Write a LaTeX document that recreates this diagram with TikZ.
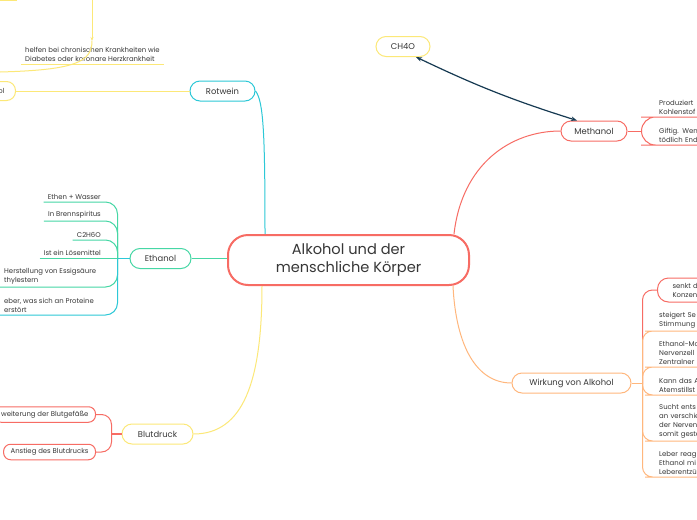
\documentclass[tikz,border=0pt]{standalone}
\usepackage{fontspec}
\setmainfont{Poppins}
\usetikzlibrary{arrows.meta,calc,positioning}
\definecolor{TopicRed}{RGB}{247,108,100}
\definecolor{BranchCyan}{RGB}{45,200,215}
\definecolor{BranchGreen}{RGB}{70,215,165}
\definecolor{BranchYellow}{RGB}{252,232,120}
\definecolor{BranchOrange}{RGB}{255,183,125}
\definecolor{RelNavy}{RGB}{22,58,82}
\definecolor{InkGray}{RGB}{55,55,55}

\tikzset{
  pill/.style={draw, line width=1pt, rounded corners=10pt, minimum height=20pt,
    inner xsep=8pt, fill=white, text=InkGray, font=\fontsize{8.4}{10}\selectfont},
  tagbox/.style={draw, line width=1pt, rounded corners=7pt, minimum height=15.5pt,
    inner xsep=7pt, fill=white, text=InkGray, font=\fontsize{6.9}{9}\selectfont},
  leaf/.style={inner xsep=4pt, inner ysep=2.5pt, text=InkGray, font=\fontsize{6.9}{9}\selectfont},
  rightleaf/.style={leaf, anchor=south west, align=left, text width=52pt},
  link/.style={line width=1pt},
}

\begin{document}
\begin{tikzpicture}[x=1pt,y=-1pt]
\clip (0,0) rectangle (697,520);
\fill[white] (0,0) rectangle (697,520);

% Zentrum und Hauptzweige
\node[draw=TopicRed, line width=2pt, rounded corners=20pt, minimum width=241pt, minimum height=50pt,
  align=center, fill=white, text=InkGray, font=\fontsize{14.6}{18}\selectfont]
  (koerper) at (348.5,260) {Alkohol und der\\menschliche Körper};
\node[pill, draw=BranchCyan, minimum width=65pt] (rotwein) at (222.5,91) {Rotwein};
\node[pill, draw=BranchGreen, minimum width=61pt] (ethanol) at (160.5,258.5) {Ethanol};
\node[pill, draw=BranchYellow, minimum width=71pt] (blutdruck) at (157.5,434) {Blutdruck};
\node[pill, draw=TopicRed, minimum width=66pt] (methanol) at (594,131) {Methanol};
\node[pill, draw=BranchOrange, minimum width=119pt] (wirkung) at (571.5,383) {Wirkung von Alkohol};
\node[pill, draw=BranchYellow, minimum width=54pt] (ch4o) at (403,46.5) {CH4O};

\draw[link, BranchCyan] ([xshift=38pt]koerper.north west) .. controls +(0,-100) and +(8,10) .. (rotwein.east);
\draw[link, BranchGreen] (ethanol.east) -- (ethanol.east -| koerper.west);
\draw[link, BranchYellow] ([xshift=35pt]koerper.south west) .. controls +(0,95) and +(50,0) .. (blutdruck.east);
\draw[link, TopicRed] ([xshift=-16pt]koerper.north east) .. controls +(8,-70) and +(-50,0) .. (methanol.west);
\draw[link, BranchOrange] ([xshift=-17pt]koerper.south east) .. controls +(3,60) and +(-35,0) .. (wirkung.west);

\draw[RelNavy, line width=1.2pt, {Stealth[length=6pt]}-{Stealth[length=6pt]}]
  ([xshift=13pt]ch4o.south) to[bend right=4] ([xshift=-17pt]methanol.north);

% Rotwein
\node[tagbox, draw=BranchYellow, rounded corners=9pt, minimum height=19pt, inner xsep=11pt,
  anchor=east, text width=28pt, align=right] (rotleaf) at (16,91) {ol};
\draw[link, BranchYellow] (rotwein.west) -- (rotleaf.east);
\node[leaf, anchor=south west, align=left] (helfen) at (21,64)
  {helfen bei chronischen Krankheiten wie\\Diabetes oder koronare Herzkrankheit};
\draw[link, BranchYellow] (helfen.south west) -- (helfen.south east);
\coordinate (relfoot) at (0,72);
\coordinate (reltip) at (92,41);
\coordinate (reltop) at (92,0);
\draw[link, BranchYellow] (relfoot) .. controls (75,70) and (92,62) .. (reltip);
\draw[link, BranchYellow, -{Stealth[length=4pt]}] (reltop) -- (reltip);
\coordinate (cutleft) at (0,0.8);
\coordinate (cutright) at (17,0.8);
\draw[link, BranchYellow] (cutleft) -- (cutright);

% Ethanol
\coordinate (ethjoin) at ([xshift=-12pt]ethanol.west);
\draw[link, BranchCyan] (ethanol.west) -- (ethjoin);
\node[leaf, anchor=south east] (eth1) at (105,202) {Ethen + Wasser};
\node[leaf, anchor=south east] (eth2) at (105,221) {In Brennspiritus};
\node[leaf, anchor=south east] (eth3) at (105,240) {C2H6O};
\node[leaf, anchor=south east] (eth4) at (105,258.5) {Ist ein Lösemittel};
\node[leaf, anchor=south west, align=left] (eth5) at (0,287) {Herstellung von Essigsäure\\thylestern};
\node[leaf, anchor=south west, align=left] (eth6) at (0,315) {eber, was sich an Proteine\\erstört};
\foreach \leafname in {eth1,eth2,eth3}
  \draw[link, BranchGreen, rounded corners=12pt] (\leafname.south west) -| (ethjoin);
\draw[link, BranchGreen] (eth4.south west) -- (ethjoin);
\draw[link, BranchGreen, rounded corners=12pt] (eth5.south west) -| (ethjoin);
\draw[link, BranchCyan, rounded corners=12pt] (eth6.south west) -| (ethjoin);

% Blutdruck
\node[tagbox, draw=TopicRed, anchor=east] (erweit) at (96,414.5) {weiterung der Blutgefäße};
\node[tagbox, draw=TopicRed, anchor=east] (anstieg) at (96,452) {Anstieg des Blutdrucks};
\coordinate (blutjoin) at ([xshift=-10pt]blutdruck.west);
\draw[TopicRed, line width=2pt] (blutdruck.west) -- (blutjoin);
\draw[link, TopicRed, rounded corners=10pt] (blutjoin) |- (erweit.east);
\draw[link, TopicRed, rounded corners=10pt] (blutjoin) |- (anstieg.east);

% Methanol
\coordinate (methjoin) at ([xshift=14pt]methanol.east);
\draw[link, TopicRed] (methanol.east) -- (methjoin);
\node[rightleaf] (produziert) at (655,117) {Produziert\\Kohlenstof};
\node[rightleaf] (giftig) at (655,145) {Giftig. Wen\\tödlich End};
\draw[link, TopicRed, rounded corners=14pt] (methjoin) |- (produziert.south west) -- (produziert.south east);
\draw[link, TopicRed, rounded corners=14pt] (methjoin) |- (giftig.south west) -- (giftig.south east);

% Wirkung von Alkohol
\coordinate (wirkjoin) at ([xshift=11pt]wirkung.east);
\draw[link, BranchOrange] (wirkung.east) -- (wirkjoin);
\node[draw=TopicRed, line width=1pt, rounded corners=11pt, anchor=west, minimum height=24pt,
  text width=50pt, align=left, inner xsep=15pt, fill=white, text=InkGray,
  font=\fontsize{6.9}{9}\selectfont] (senkt) at (657,290) {senkt di\\Konzen};
\draw[link, TopicRed, rounded corners=10pt] (wirkjoin) |- (senkt.west);
\node[rightleaf] (steigert) at (655,331) {steigert Se\\Stimmung};
\node[rightleaf] (molekuel) at (655,367) {Ethanol-Mo\\Nervenzell\\Zentralner};
\node[rightleaf] (atem) at (655,395) {Kann das A\\Atemstillst};
\node[rightleaf] (sucht) at (655,441) {Sucht ents\\an verschie\\der Nerven\\somit geste};
\node[rightleaf] (leber) at (655,477) {Leber reag\\Ethanol mi\\Leberentzü};
\foreach \leafname in {steigert,molekuel,atem,sucht,leber}
  \draw[link, BranchOrange, rounded corners=10pt] (wirkjoin) |- (\leafname.south west) -- (\leafname.south east);
\end{tikzpicture}
\end{document}
